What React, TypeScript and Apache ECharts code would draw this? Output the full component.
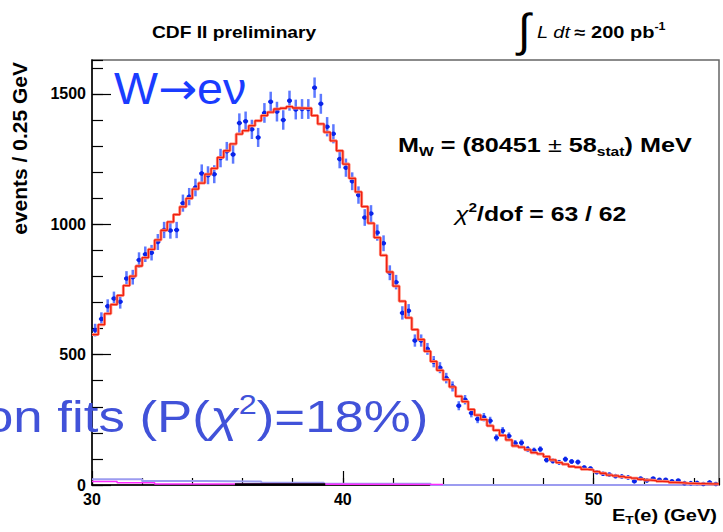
import React, { useEffect, useRef } from "react";
import * as echarts from "echarts";

// Histogram binning: 100 bins of 0.25 GeV from 30 to 55 GeV
const binStart = 30;
const binWidth = 0.25;

// Observed events per bin (data points)
const dataCounts = [
  594, 637, 686, 715, 703, 792, 797, 863, 885, 891,
  932, 978, 976, 978, 1081, 1106, 1141, 1195, 1188, 1192,
  1254, 1280, 1268, 1388, 1395, 1364, 1333, 1427, 1470, 1432,
  1400, 1474, 1440, 1442, 1442, 1524, 1462, 1374, 1347, 1250,
  1217, 1165, 1112, 1026, 1041, 968, 927, 814, 778, 660,
  668, 554, 554, 522, 473, 450, 410, 378, 304, 327,
  276, 253, 260, 246, 181, 208, 188, 160, 162, 138,
  132, 137, 96, 92, 87, 99, 90, 88, 67, 63,
  49, 43, 40, 34, 33, 29, 14, 25, 17, 25,
  20, 20, 14, 17, 7, 7, 8, 4, 10, 4,
];

// Fitted template per bin (red histogram)
const fitCounts = [
  577, 615, 657, 692, 727, 765, 801, 840, 872, 904,
  940, 977, 1009, 1037, 1067, 1099, 1135, 1158, 1192, 1214,
  1256, 1282, 1308, 1346, 1359, 1378, 1397, 1417, 1430, 1442,
  1445, 1451, 1446, 1445, 1445, 1417, 1385, 1353, 1320, 1282,
  1231, 1176, 1124, 1068, 1004, 949, 881, 817, 763, 705,
  641, 596, 558, 513, 474, 440, 404, 376, 340, 320,
  290, 268, 251, 227, 210, 190, 173, 150, 145, 135,
  124, 119, 109, 96, 86, 80, 71, 68, 60, 58,
  51, 45, 38, 35, 32, 29, 26, 22, 19, 17,
  14, 13, 10, 9, 7, 6, 5, 5, 4, 4,
];

// Background components (coarse steps)
const bkgBlueEdges = [30, 32, 34.5, 36.75, 39.25, 43.5, 55];
const bkgBlueValues = [22, 15, 13, 9, 5, 0.4];
const bkgMagentaEdges = [30, 31, 32.5, 36.5, 44];
const bkgMagentaValues = [13, 9, 4, 2];
const bkgBlackEdges = [35.7, 39.3];
const bkgBlackValues = [1.5];

const xTicksMajor = 10;
const xTicksMinor = 2;
const yTicksMajor = 500;
const yTicksMinor = 100;
const xMin = 30;
const xMax = 55;
const yMin = 0;
const yMax = 1630;

const FONT = '"Liberation Sans", Arial, Helvetica, sans-serif';

function stepPoints(edges: number[], values: number[]) {
  const pts: number[][] = values.map((v, i) => [edges[i], v]);
  pts.push([edges[values.length], values[values.length - 1]]);
  return pts;
}

export default function App() {
  const ref = useRef<HTMLDivElement>(null);

  useEffect(() => {
    document.body.style.margin = "0";
    if (!ref.current) return;
    const chart = echarts.init(ref.current, null, { renderer: "svg" });

    const binEdges = fitCounts.map((_, i) => binStart + binWidth * i);
    binEdges.push(binStart + binWidth * fitCounts.length);
    const fitPts = stepPoints(binEdges, fitCounts);
    const dataPts = dataCounts.map((v, i) => [binStart + binWidth * (i + 0.5), v]);

    const xAxisCommon = {
      type: "value" as const,
      min: xMin,
      max: xMax,
      position: "bottom" as const,
      splitLine: { show: false },
    };
    const yAxisCommon = {
      type: "value" as const,
      min: yMin,
      max: yMax,
      position: "left" as const,
      splitLine: { show: false },
    };
    const labelStyle = {
      show: true,
      fontSize: 16,
      fontWeight: "bold",
      fontFamily: FONT,
      color: "#000",
      margin: 6,
      showMaxLabel: false,
      formatter: (v: number) => String(v),
    };

    const option: any = {
      animation: false,
      backgroundColor: "#ffffff",
      grid: {
        left: 92,
        right: 4,
        top: 60,
        bottom: 47,
        show: true,
        borderColor: "#666",
        borderWidth: 1.5,
        backgroundColor: "transparent",
      },
      xAxis: [
        {
          ...xAxisCommon,
          interval: xTicksMinor,
          axisLine: { show: true, onZero: false, lineStyle: { color: "#000", width: 1.5 } },
          axisTick: { show: true, inside: true, length: 7, lineStyle: { color: "#000", width: 1.2 } },
          axisLabel: { show: false },
        },
        {
          ...xAxisCommon,
          interval: xTicksMajor,
          axisLine: { show: false, onZero: false },
          axisTick: { show: true, inside: true, length: 14, lineStyle: { color: "#000", width: 1.2 } },
          axisLabel: labelStyle,
        },
      ],
      yAxis: [
        {
          ...yAxisCommon,
          interval: yTicksMinor,
          axisLine: { show: true, onZero: false, lineStyle: { color: "#000", width: 1.5 } },
          axisTick: { show: true, inside: true, length: 11, lineStyle: { color: "#000", width: 1.2 } },
          axisLabel: { show: false },
        },
        {
          ...yAxisCommon,
          interval: yTicksMajor,
          axisLine: { show: false, onZero: false },
          axisTick: { show: true, inside: true, length: 19, lineStyle: { color: "#000", width: 1.2 } },
          axisLabel: labelStyle,
        },
      ],
      series: [
        {
          type: "line",
          step: "end",
          data: stepPoints(bkgBlueEdges, bkgBlueValues),
          showSymbol: false,
          lineStyle: { color: "#9c9cf0", width: 2 },
          z: 2,
        },
        {
          type: "line",
          step: "end",
          data: stepPoints(bkgMagentaEdges, bkgMagentaValues),
          showSymbol: false,
          lineStyle: { color: "#ff2cff", width: 1.5 },
          z: 3,
        },
        {
          type: "line",
          step: "end",
          data: stepPoints(bkgBlackEdges, bkgBlackValues),
          showSymbol: false,
          lineStyle: { color: "#000", width: 2.5 },
          z: 3,
        },
        {
          type: "custom",
          data: dataPts,
          z: 4,
          renderItem: (params: any, api: any) => {
            const x = api.value(0);
            const y = api.value(1);
            const err = Math.sqrt(y);
            const top = api.coord([x, y + err]);
            const bot = api.coord([x, Math.max(0, y - err)]);
            const l = api.coord([x - 0.1, y]);
            const r = api.coord([x + 0.1, y]);
            const c = api.coord([x, y]);
            return {
              type: "group",
              children: [
                {
                  type: "line",
                  shape: { x1: top[0], y1: top[1], x2: bot[0], y2: bot[1] },
                  style: { stroke: "#5d79ff", lineWidth: 2.5 },
                },
                {
                  type: "line",
                  shape: { x1: l[0], y1: l[1], x2: r[0], y2: r[1] },
                  style: { stroke: "#1f3cff", lineWidth: 2 },
                },
                {
                  type: "circle",
                  shape: { cx: c[0], cy: c[1], r: 2.3 },
                  style: { fill: "#0a24e8" },
                },
              ],
            };
          },
        },
        {
          type: "line",
          step: "end",
          data: fitPts,
          showSymbol: false,
          lineStyle: { color: "#ff8a7a", width: 3 },
          z: 5,
        },
        {
          type: "line",
          step: "end",
          data: fitPts,
          showSymbol: false,
          lineStyle: { color: "#f0200e", width: 1.3 },
          z: 6,
        },
      ],
      graphic: [
        {
          type: "text",
          x: 152,
          y: 33,
          scaleX: 1.2,
          z: 10,
          style: {
            text: "CDF II preliminary",
            fontSize: 16,
            fontWeight: "bold",
            fontFamily: FONT,
            fill: "#000",
            align: "left",
            verticalAlign: "middle",
          },
        },
        {
          type: "text",
          x: 518,
          y: 30,
          z: 10,
          style: {
            text: "\u222B",
            fontSize: 46,
            fontFamily: FONT,
            fill: "#000",
            align: "left",
            verticalAlign: "middle",
          },
        },
        {
          type: "text",
          x: 537,
          y: 33,
          scaleX: 1.25,
          z: 10,
          style: {
            text: "{it|L dt} {b|\u2248 200 pb}{sup|-1}",
            fontFamily: FONT,
            fill: "#000",
            align: "left",
            verticalAlign: "middle",
            rich: {
              it: { fontSize: 16, fontStyle: "italic", fontFamily: FONT, lineHeight: 24, fill: "#000" },
              b: { fontSize: 16, fontWeight: "bold", fontFamily: FONT, lineHeight: 24, fill: "#000" },
              sup: { fontSize: 10, fontWeight: "bold", fontFamily: FONT, lineHeight: 12, verticalAlign: "top", fill: "#000" },
            },
          },
        },
        {
          type: "text",
          x: 114,
          y: 89,
          scaleX: 1.06,
          z: 10,
          style: {
            text: "{t|W}{a|\u2192}{t|e\u03BD}",
            fontFamily: FONT,
            fill: "#1a3cff",
            align: "left",
            verticalAlign: "middle",
            rich: {
              t: { fontSize: 44, fontFamily: FONT, lineHeight: 50, fill: "#1a3cff" },
              a: { fontSize: 44, fontFamily: '"DejaVu Sans", sans-serif', lineHeight: 50, fill: "#1a3cff" },
            },
          },
        },
        {
          type: "text",
          x: 398,
          y: 145,
          scaleX: 1.2,
          z: 10,
          style: {
            text: "{b|M}{sub|W}{b| = (80451}{pm| \u00B1}{b| 58}{sub|stat}{b|) MeV}",
            fontFamily: FONT,
            fill: "#000",
            align: "left",
            verticalAlign: "middle",
            rich: {
              b: { fontSize: 21, fontWeight: "bold", fontFamily: FONT, lineHeight: 26, fill: "#000" },
              pm: { fontSize: 21, fontFamily: FONT, lineHeight: 26, fill: "#000" },
              sub: { fontSize: 13, fontWeight: "bold", fontFamily: FONT, lineHeight: 13, verticalAlign: "bottom", fill: "#000" },
            },
          },
        },
        {
          type: "text",
          x: 455,
          y: 214,
          scaleX: 1.18,
          z: 10,
          style: {
            text: "{chi|\u03C7}{sup|2}{b|/dof = 63 / 62}",
            fontFamily: FONT,
            fill: "#000",
            align: "left",
            verticalAlign: "middle",
            rich: {
              chi: { fontSize: 21, fontStyle: "italic", fontFamily: FONT, lineHeight: 26, fill: "#000" },
              b: { fontSize: 21, fontWeight: "bold", fontFamily: FONT, lineHeight: 26, fill: "#000" },
              sup: { fontSize: 13, fontWeight: "bold", fontFamily: FONT, lineHeight: 13, verticalAlign: "top", fill: "#000" },
            },
          },
        },
        {
          type: "text",
          x: -16,
          y: 417,
          scaleX: 1.2,
          z: 20,
          style: {
            text: "{t|on fits (P(}{chi|\u03C7}{sup|2}{t|)=18%)}",
            fontFamily: FONT,
            fill: "#4152d9",
            align: "left",
            verticalAlign: "middle",
            rich: {
              t: { fontSize: 44, fontFamily: FONT, lineHeight: 52, fill: "#4152d9" },
              chi: { fontSize: 44, fontStyle: "italic", fontFamily: FONT, lineHeight: 52, fill: "#4152d9" },
              sup: { fontSize: 27, fontFamily: FONT, lineHeight: 30, verticalAlign: "top", fill: "#4152d9" },
            },
          },
        },
        {
          type: "text",
          x: 19,
          y: 62,
          rotation: Math.PI / 2,
          z: 10,
          style: {
            text: "events / 0.25 GeV",
            fontSize: 21,
            fontWeight: "bold",
            fontFamily: FONT,
            fill: "#000",
            align: "right",
            verticalAlign: "middle",
          },
        },
        {
          type: "text",
          x: 717,
          y: 516,
          scaleX: 1.25,
          z: 10,
          style: {
            text: "{b|E}{sub|T}{b|(e) (GeV)}",
            fontFamily: FONT,
            fill: "#000",
            align: "right",
            verticalAlign: "middle",
            rich: {
              b: { fontSize: 16, fontWeight: "bold", fontFamily: FONT, lineHeight: 20, fill: "#000" },
              sub: { fontSize: 11, fontWeight: "bold", fontFamily: FONT, lineHeight: 11, verticalAlign: "bottom", fill: "#000" },
            },
          },
        },
      ],
    };

    chart.setOption(option);
    return () => {
      chart.dispose();
    };
  }, []);

  return <div ref={ref} style={{ width: 723, height: 532 }} />;
}
